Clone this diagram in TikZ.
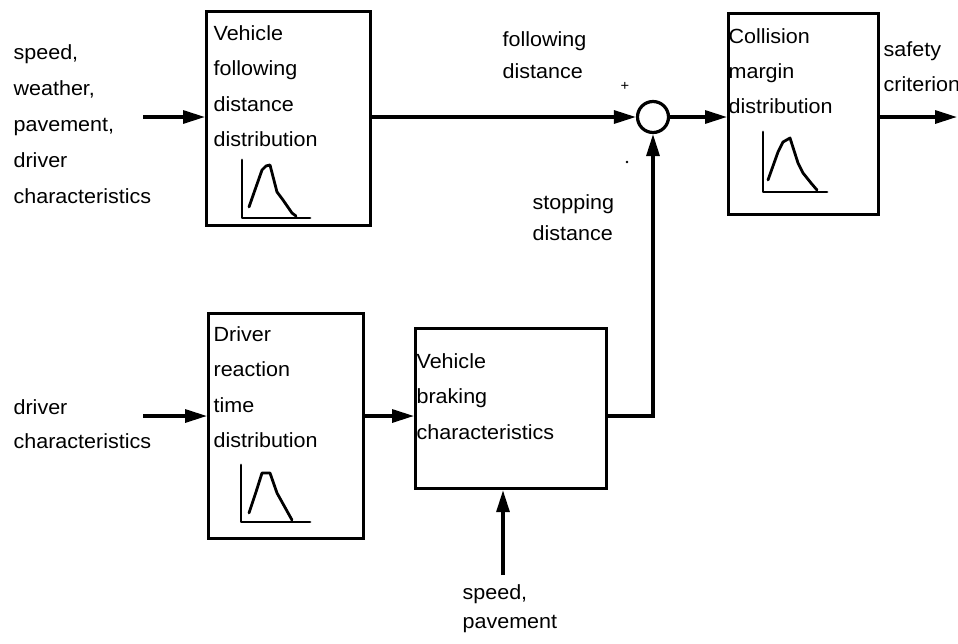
\documentclass[tikz,border=0pt]{standalone}
\usepackage{fontspec}
\setmainfont[FakeStretch=1.05]{Liberation Sans}
\usetikzlibrary{arrows.meta}
\begin{document}
\begin{tikzpicture}[x=1pt,y=-1pt,
  line width=3.2pt,
  blk/.style={draw, rectangle, inner sep=0pt, anchor=north west},
  lbl/.style={anchor=north west, inner sep=0pt, align=left,
    font=\fontsize{20.5}{#1}\selectfont},
  lbl/.default=35.5,
  flow/.style={-{Triangle[length=22pt,width=13pt]}},
  pdf/.style={line width=2.8pt, line join=round, line cap=round}
]
% page
\fill[white] (0,0) rectangle (958,643);
\useasboundingbox (0,0) rectangle (958,643);

% blocks
\node[blk, minimum width=164pt, minimum height=214pt] (vfd) at (205,10) {};
\node[blk, minimum width=150pt, minimum height=201pt] (cmd) at (727,12) {};
\node[blk, minimum width=155pt, minimum height=225pt] (drt) at (207,312) {};
\node[blk, minimum width=191pt, minimum height=160pt] (vbc) at (414,327) {};
\node[circle, draw, minimum size=31pt, inner sep=0pt] (sum) at (653,117) {};

% free ends and corner
\coordinate (inA) at (143,117);
\coordinate (inB) at (143,416);
\coordinate (inC) at (503,575);
\coordinate (outS) at (957,117);
\coordinate (turn) at (653,416);

% connectors
\draw[flow] (inA) -- (inA -| vfd.west);
\draw[flow] (vfd.east |- sum) -- (sum.west);
\draw[flow] (sum.east) -- (sum -| cmd.west);
\draw[flow] (cmd.east |- sum) -- (outS);
\draw[flow] (inB) -- (inB -| drt.west);
\draw[flow] (drt.east |- inB) -- (inB -| vbc.west);
\draw[flow] (vbc.east |- turn) -- (turn) -- (sum.south);
\draw[flow] (inC) -- (inC |- vbc.south);

% labels
\node[lbl=36] (lA) at (12,43) {speed,\\weather,\\pavement,\\driver\\characteristics};
\node[lbl] (tA) at (212,24) {Vehicle\\following\\distance\\distribution};
\node[lbl=32] (lFD) at (501,30) {following\\distance};
\node[lbl=35] (tC) at (727,27) {Collision\\margin\\distribution};
\node[lbl=35] (lS) at (882,40) {safety\\criterion};
\node[lbl=31] (lSD) at (531,193) {stopping\\distance};
\node[lbl] (tD) at (212,325) {Driver\\reaction\\time\\distribution};
\node[lbl] (tB) at (415,352) {Vehicle\\braking\\characteristics};
\node[lbl=34] (lB) at (12,398) {driver\\characteristics};
\node[lbl=29] (lC) at (461,583) {speed,\\pavement};
\node[inner sep=0pt, font=\fontsize{14}{14}\selectfont] (plus) at (625,86) {+};
\fill (627,162) circle (1.3pt);

% distribution sketches
\draw[pdf] (242,160) -- (242,218) -- (310,218);
\draw[pdf] (249,207) -- (256,187) -- (262,170) -- (266,166) -- (270,165)
  -- (277,192) -- (283,200) -- (292,213) -- (296,216);

\draw[pdf] (763,132) -- (763,192) -- (827,192);
\draw[pdf] (768,180) -- (778,152) -- (783,142) -- (790,138) -- (798,163)
  -- (803,173) -- (811,183) -- (817,190);

\draw[pdf] (241,465) -- (241,522) -- (310,522);
\draw[pdf] (249,513) -- (256,492) -- (262,473) -- (270,473) -- (277,493)
  -- (282,502) -- (292,520);
\end{tikzpicture}
\end{document}
